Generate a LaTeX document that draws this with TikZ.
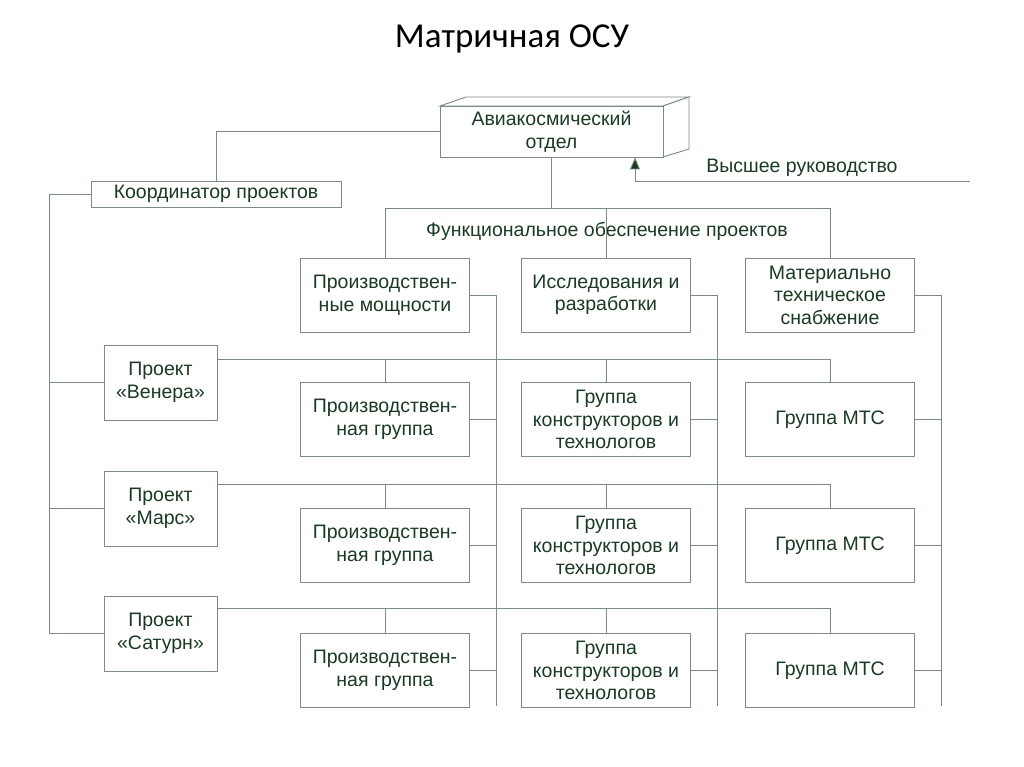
\documentclass[tikz,border=0pt]{standalone}
\usepackage{fontspec}
\setmainfont{Liberation Sans}
\newfontfamily\titlefont{Carlito}
\usetikzlibrary{arrows.meta}
\definecolor{txt}{HTML}{1B3A24}
\definecolor{ln}{HTML}{7C8C80}
\begin{document}
\begin{tikzpicture}[x=1pt,y=-1pt,
  every node/.style={text=txt,font=\fontsize{19.5}{22.5}\selectfont,align=center,inner sep=0pt},
  box/.style={draw=ln,line width=0.9pt,fill=white},
  fbox/.style={box,minimum width=169pt,minimum height=74pt},
  pbox/.style={box,minimum width=113pt,minimum height=75pt},
  conn/.style={draw=ln,line width=0.9pt}]
\useasboundingbox (0,0) rectangle (1024,767);
\node[text=black,font=\titlefont\fontsize{35}{40}\selectfont] (title) at (512,39) {Матричная ОСУ};
% top 3D box
\draw[conn,fill=white] (440,106) -- (466,97) -- (689,97) -- (663,106) -- cycle;
\draw[conn,fill=white] (663,106) -- (689,97) -- (689,149) -- (663,157) -- cycle;
\node[box,minimum width=223pt,minimum height=51pt] (top) at (551.5,131.5) {Авиакосмический\\отдел};
% coordinator
\node[box,minimum width=250pt,minimum height=26pt] (coord) at (216,194) {Координатор проектов};
\node (high) at (802,168) {Высшее руководство};
\coordinate (hr) at (970,181);
\coordinate (ha) at (635,181);
\draw[conn,-{Triangle[length=12pt,width=10pt,fill=txt]}] (hr) -- (ha) -- (ha |- top.south);
\draw[conn] (top.west) -| (coord.north);
% functional
\coordinate (bar) at (552,208);
\node (func) at (607,231) {Функциональное обеспечение проектов};
\node[fbox] (f1) at (385,295) {Производствен-\\ные мощности};
\node[fbox] (f2) at (606,295) {Исследования и\\разработки};
\node[fbox] (f3) at (830,295) {Материально\\техническое\\снабжение};
\draw[conn] (top.south) -- (top.south |- bar);
\draw[conn] (f1.north) -- (f1.north |- bar) -- (f3.north |- bar) -- (f3.north);
\draw[conn] (f2.north) -- (f2.north |- bar);
% projects
\node[pbox] (p1) at (160.5,382.5) {Проект\\«Венера»};
\node[pbox] (p2) at (160.5,508.5) {Проект\\«Марс»};
\node[pbox] (p3) at (160.5,633.5) {Проект\\«Сатурн»};
\coordinate (lx) at (49,194);
\draw[conn] (coord.west) -- (lx) -- (lx |- p3.west) -- (p3.west);
\draw[conn] (lx |- p1.west) -- (p1.west);
\draw[conn] (lx |- p2.west) -- (p2.west);
% groups
\foreach \r/\y in {a/419.5,b/545.5,c/670.5}{
  \node[fbox] (g1\r) at (385,\y) {Производствен-\\ная группа};
  \node[fbox] (g2\r) at (606,\y) {Группа\\конструкторов и\\технологов};
  \node[fbox] (g3\r) at (830,\y) {Группа МТС};
}
\foreach \r/\p/\hy in {a/p1/359,b/p2/484,c/p3/608}{
  \coordinate (h\r) at (0,\hy);
  \draw[conn] (\p.east |- h\r) -- (g3\r.north |- h\r) -- (g3\r.north);
  \draw[conn] (g1\r.north |- h\r) -- (g1\r.north);
  \draw[conn] (g2\r.north |- h\r) -- (g2\r.north);
}
\coordinate (v1) at (496,706);
\coordinate (v2) at (717,706);
\coordinate (v3) at (941,706);
\draw[conn] (f1.east) -- (f1.east -| v1) -- (v1);
\draw[conn] (f2.east) -- (f2.east -| v2) -- (v2);
\draw[conn] (f3.east) -- (f3.east -| v3) -- (v3);
\foreach \r in {a,b,c}{
  \draw[conn] (g1\r.east) -- (g1\r.east -| v1);
  \draw[conn] (g2\r.east) -- (g2\r.east -| v2);
  \draw[conn] (g3\r.east) -- (g3\r.east -| v3);
}
\end{tikzpicture}
\end{document}
